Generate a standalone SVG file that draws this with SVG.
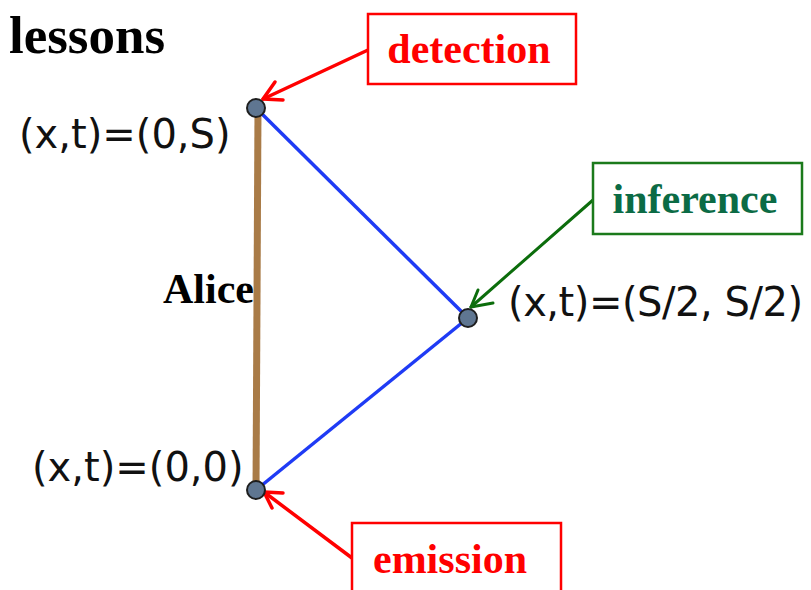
<svg xmlns="http://www.w3.org/2000/svg" width="811" height="590" viewBox="0 0 811 590">
<style>
.title{font-family:"Liberation Serif",serif;font-weight:bold;font-size:53px;fill:#000}
.lab{font-family:"Liberation Serif",serif;font-weight:bold;font-size:42px}
.coord{font-family:"DejaVu Sans",sans-serif;font-size:40px;fill:#111}
.node{fill:#5f7691;stroke:#1e1e1e;stroke-width:2}
.blue{stroke:#1f3bf5;stroke-width:3.5;fill:none}
.red{stroke:#ff0000;stroke-width:3.5;fill:none;stroke-linecap:round;stroke-linejoin:round}
.green{stroke:#0c6d0c;stroke-width:3;fill:none;stroke-linecap:round;stroke-linejoin:round}
</style>
<rect width="811" height="590" fill="#fff"/>
<text class="title" x="9" y="53">lessons</text>
<g id="connectors">
  <line x1="258" y1="108" x2="256" y2="490" stroke="#a97b47" stroke-width="7"/>
  <line class="blue" x1="256" y1="108" x2="468" y2="318"/>
  <line class="blue" x1="468" y1="318" x2="256" y2="490"/>
  <g id="arrow-detection" class="red">
    <line x1="368" y1="50" x2="263" y2="99"/>
    <polyline points="275,82 263,99 283,100"/>
  </g>
  <g id="arrow-emission" class="red">
    <line x1="352" y1="558" x2="264" y2="492"/>
    <polyline points="283,493 264,492 272,508"/>
  </g>
  <g id="arrow-inference" class="green">
    <line x1="593" y1="200" x2="471" y2="307"/>
    <polyline points="478,290 471,307 493,303"/>
  </g>
</g>
<g id="node-top">
  <circle class="node" cx="256" cy="108" r="9"/>
  <text class="coord" x="19" y="148">(x,t)=(0,S)</text>
</g>
<g id="node-bottom">
  <circle class="node" cx="256" cy="490" r="9"/>
  <text class="coord" x="32" y="481">(x,t)=(0,0)</text>
</g>
<g id="node-middle">
  <circle class="node" cx="468" cy="318" r="9"/>
  <text class="coord" x="508" y="316" textLength="295">(x,t)=(S/2, S/2)</text>
</g>
<g id="alice">
  <text class="lab" x="163" y="303" fill="#000" font-size="40">Alice</text>
</g>
<g id="detection">
  <rect x="368" y="14" width="208" height="70" fill="#fff" stroke="#ff0000" stroke-width="2.5"/>
  <text class="lab" x="469" y="63" fill="#ff0000" text-anchor="middle">detection</text>
</g>
<g id="inference">
  <rect x="593" y="163" width="209" height="71" fill="#fff" stroke="#1b7a1b" stroke-width="2.5"/>
  <text class="lab" x="695" y="213" fill="#0b6b45" text-anchor="middle">inference</text>
</g>
<g id="emission">
  <rect x="352" y="523" width="209" height="80" fill="#fff" stroke="#ff0000" stroke-width="2.5"/>
  <text class="lab" x="450" y="573" fill="#ff0000" text-anchor="middle">emission</text>
</g>
</svg>
